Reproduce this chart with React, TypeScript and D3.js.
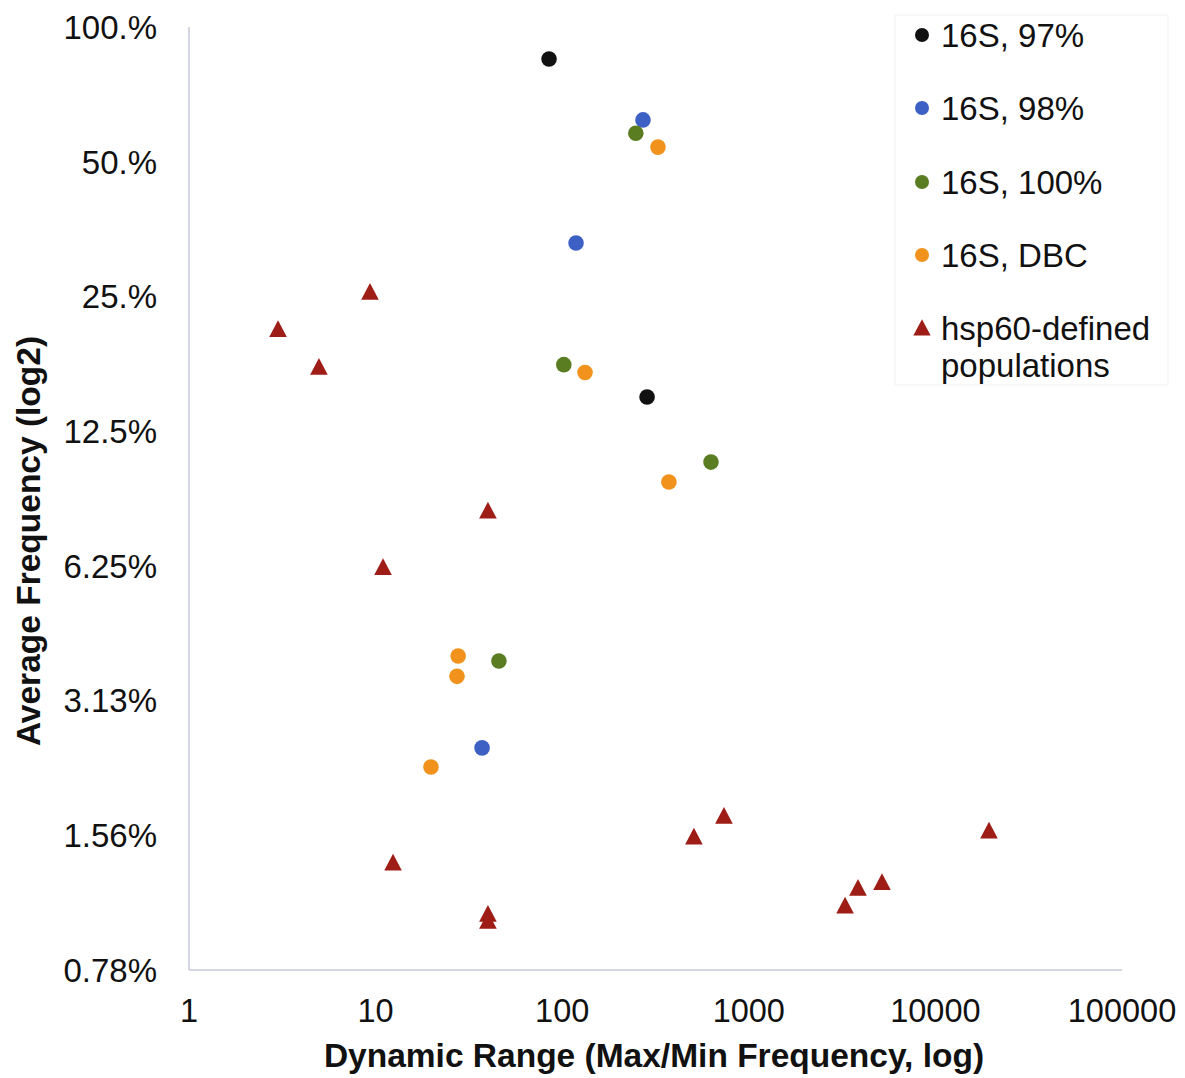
import React from "react";
import * as d3 from "d3";

const W = 1185;
const H = 1078;

// x: Dynamic Range (Max/Min Frequency), y: Average Frequency (fraction)
const black97X = [85, 285];
const black97Y = [0.848, 0.149];

const blue98X = [271, 118.6, 37.2];
const blue98Y = [0.62, 0.329, 0.0245];

const green100X = [248, 102, 627, 45.8];
const green100Y = [0.579, 0.176, 0.1066, 0.0383];

const orangeDbcX = [326, 132.5, 373, 27.7, 27.3, 19.8];
const orangeDbcY = [0.539, 0.169, 0.0962, 0.0393, 0.0354, 0.0222];

const hspX = [9.33, 3.0, 4.97, 40.0, 10.96, 12.4, 40, 40, 508, 736, 19370, 3280, 3848, 5174];
const hspY = [0.2543, 0.21, 0.173, 0.0825, 0.0617, 0.01349, 0.01037, 0.01, 0.01543, 0.01717, 0.01591, 0.01081, 0.01185, 0.01221];

const xTicks = [1, 10, 100, 1000, 10000, 100000];
const xTickLabels = ["1", "10", "100", "1000", "10000", "100000"];
const yTicks = [1, 0.5, 0.25, 0.125, 0.0625, 0.03125, 0.015625, 0.0078125];
const yTickLabels = ["100.%", "50.%", "25.%", "12.5%", "6.25%", "3.13%", "1.56%", "0.78%"];

const seriesNames = ["16S, 97%", "16S, 98%", "16S, 100%", "16S, DBC"];
const seriesColors = ["#111111", "#3d60c4", "#5a7d22", "#f0921c"];
const hspName = ["hsp60-defined", "populations"];
const hspColor = "#9e1d16";

const triType = {
  draw(ctx: any, size: number) {
    const w = Math.sqrt(size);
    const h = w * 0.95;
    ctx.moveTo(0, -h * 0.6);
    ctx.lineTo(w / 2, h * 0.4);
    ctx.lineTo(-w / 2, h * 0.4);
    ctx.closePath();
  },
};

export default function App() {
  const x = d3.scaleLog().domain([1, 100000]).range([189, 1122]);
  const y = d3.scaleLog().base(2).domain([0.0078125, 1]).range([970, 27]);

  const circleSeries = [
    { xs: black97X, ys: black97Y },
    { xs: blue98X, ys: blue98Y },
    { xs: green100X, ys: green100Y },
    { xs: orangeDbcX, ys: orangeDbcY },
  ];

  const tri = d3.symbol().type(triType as any).size(310)() as string;
  const triLegend = d3.symbol().type(triType as any).size(300)() as string;
  const font = "Liberation Sans, Arial, sans-serif";
  const axisColor = "#c6c9d8";
  const legendYs = [35, 108, 182, 255];

  return (
    <svg width={W} height={H} style={{ position: "absolute", left: 0, top: 0, background: "#fff" }} fontFamily={font}>
      <rect x={0} y={0} width={W} height={H} fill="#fff" />
      {/* axes */}
      <line x1={x(1)} x2={x(1)} y1={y(1)} y2={y(0.0078125)} stroke={axisColor} strokeWidth={1.5} />
      <line x1={x(1)} x2={x(100000)} y1={y(0.0078125)} y2={y(0.0078125)} stroke={axisColor} strokeWidth={1.5} />
      {/* y tick labels */}
      {yTicks.map((t, i) => (
        <text key={"yt" + i} x={157} y={y(t)} dy="0.36em" textAnchor="end" fontSize={33} fill="#111">
          {yTickLabels[i]}
        </text>
      ))}
      {/* x tick labels */}
      {xTicks.map((t, i) => (
        <text key={"xt" + i} x={x(t)} y={1022} textAnchor="middle" fontSize={32.5} fill="#111">
          {xTickLabels[i]}
        </text>
      ))}
      {/* axis titles */}
      <text x={654} y={1067} textAnchor="middle" fontSize={33.5} fontWeight="bold" fill="#111">
        Dynamic Range (Max/Min Frequency, log)
      </text>
      <text transform={`translate(40,541) rotate(-90)`} textAnchor="middle" fontSize={33.5} fontWeight="bold" fill="#111">
        Average Frequency (log2)
      </text>
      {/* circle points */}
      {circleSeries.map((s, si) =>
        s.xs.map((xv, i) => (
          <circle key={`c${si}-${i}`} cx={x(xv)} cy={y(s.ys[i])} r={7.8} fill={seriesColors[si]} />
        ))
      )}
      {/* triangles */}
      {hspX.map((xv, i) => (
        <path key={"t" + i} d={tri} transform={`translate(${x(xv)},${y(hspY[i])})`} fill={hspColor} />
      ))}
      {/* legend */}
      <rect x={895} y={15} width={273} height={370} fill="none" stroke="#f0f1f5" strokeWidth={1} />
      {seriesNames.map((n, i) => (
        <g key={"lg" + i}>
          <circle cx={922} cy={legendYs[i]} r={7} fill={seriesColors[i]} />
          <text x={941} y={legendYs[i]} dy="0.36em" fontSize={33} fill="#111">
            {n}
          </text>
        </g>
      ))}
      <path d={triLegend} transform={`translate(922,329)`} fill={hspColor} />
      <text x={941} y={328} dy="0.36em" fontSize={33} fill="#111">
        {hspName[0]}
      </text>
      <text x={941} y={365} dy="0.36em" fontSize={33} fill="#111">
        {hspName[1]}
      </text>
    </svg>
  );
}
